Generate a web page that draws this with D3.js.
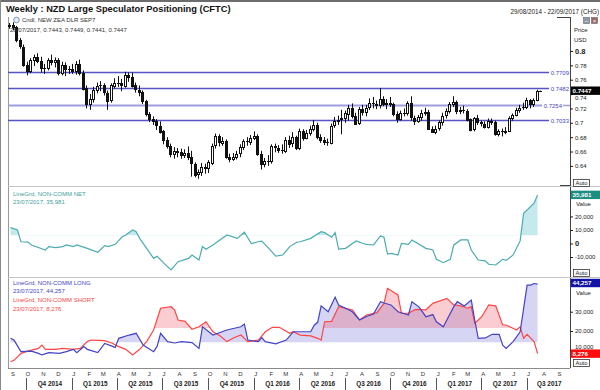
<!DOCTYPE html>
<html><head><meta charset="utf-8">
<script src="https://cdn.jsdelivr.net/npm/d3@7"></script>
<style>
body{margin:0;background:#fff}
svg{display:block;font-family:"Liberation Sans",Arial,sans-serif}
</style>
</head><body>
<svg id="c" width="600" height="390"></svg>
<script>
// ---------------- DATA ----------------
const candleStart = "2014-08-29"; // weekly candles
const opens = [.834,.836,.833,.815,.806,.781,.772,.787,.791,.786,
.776,.776,.787,.784,.787,.769,.780,.774,.775,.772,
.782,.770,.748,.726,.733,.746,.751,.752,.742,.731,
.752,.756,.755,.752,.767,.764,.752,.746,.743,.730,
.712,.705,.702,.696,.688,.676,.668,.657,.661,.659,
.655,.658,.652,.643,.628,.631,.638,.636,.645,.668,
.681,.672,.675,.653,.650,.653,.657,.666,.674,.673,
.679,.682,.657,.643,.647,.646,.667,.665,.662,.661,
.676,.671,.680,.665,.689,.679,.686,.692,.697,.680,
.676,.673,.673,.696,.702,.704,.706,.713,.721,.710,
.699,.719,.715,.721,.727,.726,.724,.733,.726,.728,
.726,.712,.705,.714,.713,.727,.707,.703,.708,.713,
.715,.692,.688,.692,.701,.710,.716,.726,.729,.716,
.718,.717,.705,.690,.706,.701,.699,.695,.703,.701,
.684,.688,.687,.689,.707,.711,.718,.721,.722,.732,
.726,.732,.7443];
const highs = [.839,.840,.835,.818,.809,.785,.790,.795,.797,.792,
.782,.790,.795,.791,.790,.785,.784,.779,.782,.786,
.788,.773,.752,.740,.750,.756,.758,.755,.745,.755,
.762,.765,.761,.771,.770,.770,.756,.752,.745,.732,
.715,.709,.705,.702,.690,.680,.671,.666,.665,.664,
.663,.667,.661,.645,.635,.644,.643,.648,.671,.685,
.684,.680,.677,.657,.658,.661,.670,.677,.680,.683,
.688,.684,.661,.651,.655,.670,.671,.669,.670,.680,
.682,.687,.682,.692,.691,.690,.696,.704,.700,.684,
.680,.678,.699,.708,.710,.718,.717,.725,.727,.714,
.722,.725,.725,.734,.736,.731,.7485,.737,.733,.736,
.728,.716,.717,.720,.730,.737,.710,.711,.718,.721,
.718,.695,.696,.703,.714,.720,.729,.737,.731,.722,
.724,.719,.706,.708,.711,.703,.702,.706,.706,.703,
.691,.692,.694,.709,.713,.721,.725,.728,.735,.733,
.734,.746,.7449];
const lows = [.831,.829,.812,.803,.778,.766,.769,.779,.783,.770,
.768,.773,.780,.777,.766,.766,.765,.768,.768,.767,
.766,.745,.720,.718,.728,.741,.744,.738,.718,.728,
.748,.750,.744,.749,.757,.749,.742,.737,.726,.709,
.701,.697,.690,.685,.670,.664,.652,.650,.652,.650,
.651,.648,.625,.624,.622,.626,.629,.630,.641,.664,
.667,.668,.650,.645,.647,.649,.652,.662,.668,.669,
.676,.654,.635,.638,.640,.643,.659,.658,.657,.658,
.665,.666,.662,.662,.675,.677,.682,.688,.677,.672,
.669,.668,.670,.693,.697,.684,.700,.703,.706,.697,
.697,.710,.709,.718,.720,.719,.720,.723,.719,.722,
.709,.700,.703,.709,.710,.703,.697,.700,.703,.710,
.690,.686,.684,.689,.696,.706,.713,.722,.712,.712,
.713,.702,.688,.688,.697,.695,.692,.692,.697,.682,
.681,.681,.684,.687,.703,.709,.714,.718,.719,.720,
.722,.730,.7441];
const closes = [.836,.833,.815,.806,.781,.772,.787,.791,.786,.776,
.776,.787,.784,.787,.769,.780,.774,.775,.772,.782,
.770,.748,.726,.733,.746,.751,.752,.742,.731,.752,
.756,.755,.752,.767,.764,.752,.746,.743,.730,.712,
.705,.702,.696,.688,.676,.668,.657,.661,.659,.655,
.658,.652,.643,.628,.631,.638,.636,.645,.668,.681,
.672,.675,.653,.650,.653,.657,.666,.674,.673,.679,
.682,.657,.643,.647,.646,.667,.665,.662,.661,.676,
.671,.680,.665,.689,.679,.686,.692,.697,.680,.676,
.673,.673,.696,.702,.704,.706,.713,.721,.710,.699,
.719,.715,.721,.727,.726,.724,.733,.726,.728,.726,
.712,.705,.714,.713,.727,.707,.703,.708,.713,.715,
.692,.688,.692,.701,.710,.716,.726,.729,.716,.718,
.717,.705,.690,.706,.701,.699,.695,.703,.701,.684,
.688,.687,.689,.707,.711,.718,.721,.722,.732,.726,
.732,.7443,.7447];
const levels = [0.7709, 0.7482, 0.7254, 0.7033];
const priceTicks = [0.64,0.66,0.68,0.7,0.72,0.74,0.76,0.78,0.8];
const lastPrice = 0.7447;

const cftcStart = "2014-08-31"; // week 0 of the CFTC series
const netWeeks = [0,2,3,5,6,10,11,13,15,16,18,19,22,25,27,28,30,32,33,35,36,37,39,41,42,44,46,48,51,52,54,55,56,58,62,65,67,69,71,72,74,76,78,80,82,83,86,89,90,92,93,94,96,99,101,102,104,106,107,108,109,111,112,114,115,119,121,122,124,126,127,129,131,132,134,136,137,139,141,142,144,146,147,150,151];
const netValues = [11700,10000,1300,1000,-1100,-4800,-2300,-3000,-2300,-1100,-2300,-1100,-3600,-6500,-1600,-2300,-600,5000,6300,10000,8700,3800,-3600,-11000,-9500,-14700,-19600,-13500,-11000,-8500,-12200,-2300,-4300,-1100,6300,3800,8300,0,1300,1800,-3600,-9300,-8500,-2300,900,1300,3800,8700,8000,4600,8000,-4100,-3600,1900,0,-600,-1100,5600,4600,-7800,-7300,-8500,0,-600,2600,-3600,-4800,-11700,-14200,-11700,-1100,2600,2600,-4800,-12200,-12800,-15400,-15900,-11700,-12500,-8500,1900,22400,29800,35981];
const longWeeks = [0,1,3,6,8,9,11,14,16,18,19,21,22,25,27,30,31,34,36,38,41,42,43,45,47,49,52,54,55,58,62,66,67,68,71,72,73,76,79,81,83,86,87,88,89,91,93,94,97,98,100,102,104,106,107,109,111,114,115,117,119,121,122,124,125,127,128,130,132,133,134,136,138,140,141,142,144,146,148,149,150,151];
const longValues = [16200,15300,9300,9600,8400,7600,8800,8400,9300,10500,8800,11900,10500,8800,13600,11500,16200,17900,18800,12700,9300,12000,18800,14500,13800,14500,14000,11000,22200,17900,20500,22200,23600,15300,14500,16600,14500,13300,15300,19600,19600,19600,23000,24500,33000,30000,37500,33500,30900,29800,25700,27500,28800,35200,34500,33500,30000,28300,35200,32500,27400,28500,24800,22200,25700,32600,35200,33000,36000,25700,16200,16400,18300,18300,12700,11000,14500,19600,43800,43800,44600,44257];
const shortWeeks = [0,1,3,5,8,9,10,13,15,18,20,22,23,27,29,31,33,35,37,39,41,43,46,47,48,50,52,54,56,58,60,62,64,66,68,71,73,75,77,80,81,83,86,88,89,90,92,94,98,100,102,105,107,108,111,112,114,116,119,121,125,127,129,131,132,133,135,137,139,141,142,145,146,147,148,150,151];
const shortValues = [4100,4800,8400,9600,11000,12700,10500,10500,11000,10500,11000,14500,15300,15000,13800,11900,10500,7600,10500,14500,20500,31800,32600,31000,25700,25000,20900,22200,24800,19600,17500,14500,16500,17900,14500,15300,19600,21900,21900,18800,19600,17900,17500,16200,15300,24800,25000,32600,30900,25700,28300,29500,34300,42100,38700,29200,29200,31200,31000,34300,36900,33500,33000,31800,32600,24000,27400,33500,33000,23100,23100,20500,22200,16200,18300,14500,8276];
const netTicks = [-10000,0,10000,20000];
const lsTicks = [10000,20000,30000];
const netFillLevel = 6000, longFillLevel = 14000, shortFillLevel = 21500;
const monthLetters = ["J","F","M","A","M","J","J","A","S","O","N","D"];

// ---------------- CHART ----------------
const parse = d3.utcParse("%Y-%m-%d");
const svg = d3.select("#c");
const L = 8, R = 570;
const x = d3.scaleUtc().domain([parse("2014-08-26"), parse("2017-09-26")]).range([L, R]);
const yP = d3.scaleLinear().domain([0.612, 0.8473]).range([186, 17]);
const yN = d3.scaleLinear().domain([-24800, 41800]).range([277, 187]);
const yL = d3.scaleLinear().domain([829, 47460]).range([368, 278]);
const fmtK = v => d3.format(",")(v).replace("\u2212", "-");

svg.append("rect").attr("width", 600).attr("height", 390).attr("fill", "#fff");

const defs = svg.append("defs");
function clip(id, x0, y0, w, h) {
  defs.append("clipPath").attr("id", id).append("rect").attr("x", x0).attr("y", y0).attr("width", w).attr("height", h);
  return "url(#" + id + ")";
}
const clipP = clip("cp", L, 17, R - L, 169);
const clipNfill = clip("cnf", L, 187, R - L, yN(netFillLevel) - 187);
const clipN = clip("cn", L, 187, R - L, 90);
const clipLfill = clip("clf", L, 278, R - L, yL(longFillLevel) - 278);
const clipSfill = clip("csf", L, 278, R - L, yL(shortFillLevel) - 278);
const clipLS = clip("cls", L, 278, R - L, 90);

// frame lines
svg.append("rect").attr("x", 0).attr("y", 0).attr("width", 600).attr("height", 2).attr("fill", "#6d6d6d");
svg.append("line").attr("x1", 0.5).attr("x2", 0.5).attr("y1", 0).attr("y2", 390).attr("stroke", "#8a8a8a");
svg.append("line").attr("x1", L + 0.5).attr("x2", L + 0.5).attr("y1", 17).attr("y2", 368).attr("stroke", "#9a9a9a");
svg.append("line").attr("x1", R + 0.5).attr("x2", R + 0.5).attr("y1", 17).attr("y2", 368).attr("stroke", "#444");
svg.append("line").attr("x1", 557).attr("x2", R).attr("y1", 17.5).attr("y2", 17.5).attr("stroke", "#444");
[186.5, 277.5].forEach(y => svg.append("line").attr("x1", L).attr("x2", 600).attr("y1", y).attr("y2", y).attr("stroke", "#c4c4c4"));
svg.append("line").attr("x1", 560).attr("x2", R).attr("y1", 185.5).attr("y2", 185.5).attr("stroke", "#444");
svg.append("line").attr("x1", L).attr("x2", R).attr("y1", 368.5).attr("y2", 368.5).attr("stroke", "#8a8a8a");

// title & header
svg.append("text").attr("x", 6).attr("y", 11.5).attr("font-size", 9.3).attr("font-weight", "bold").attr("fill", "#111")
  .text("Weekly : NZD Large Speculator Positioning (CFTC)");
svg.append("text").attr("x", 599).attr("y", 14).attr("text-anchor", "end").attr("font-size", 6.3).attr("fill", "#222")
  .text("29/08/2014 - 22/09/2017 (CHG)");

// ---- Panel 1: candles ----
const lv = svg.append("g");
levels.forEach(v => {
  const y = Math.round(yP(v)) + 0.5;
  const special = v === 0.7254;
  lv.append("line").attr("x1", L).attr("x2", special ? 542 : 549).attr("y1", y).attr("y2", y)
    .attr("stroke", special ? "#9d9de0" : "#5555c4").attr("stroke-width", special ? 2 : 1.3);
  if (special) lv.append("line").attr("x1", 563).attr("x2", R).attr("y1", y).attr("y2", y).attr("stroke", "#9d9de0").attr("stroke-width", 1.5);
  lv.append("text").attr("x", special ? 562 : 569).attr("y", y + 2.2).attr("text-anchor", "end")
    .attr("font-size", 6).attr("fill", "#4646c8").text(v.toFixed(4));
});

const c0 = parse(candleStart);
const candles = closes.map((c, i) => ({ d: d3.utcDay.offset(c0, 7 * i), o: opens[i], h: highs[i], l: lows[i], c }));
const cg = svg.append("g").attr("clip-path", clipP);
candles.forEach(k => {
  const cx = Math.round(x(k.d));
  cg.append("line").attr("x1", cx + 0.5).attr("x2", cx + 0.5).attr("y1", yP(k.h)).attr("y2", yP(k.l)).attr("stroke", "#111");
  const top = yP(Math.max(k.o, k.c)), bot = yP(Math.min(k.o, k.c));
  const up = k.c >= k.o;
  if (bot - top < 1) {
    cg.append("line").attr("x1", cx - 1).attr("x2", cx + 2).attr("y1", Math.round(top) + 0.5).attr("y2", Math.round(top) + 0.5).attr("stroke", "#111");
  } else {
    cg.append("rect").attr("x", cx - 0.5).attr("width", 2).attr("y", Math.round(top) + 0.5).attr("height", Math.max(1, Math.round(bot - top)))
      .attr("fill", up ? "#fff" : "#111").attr("stroke", "#111").attr("stroke-width", 1);
  }
});

// legend panel 1
svg.append("circle").attr("cx", 16.5).attr("cy", 20).attr("r", 2.8).attr("fill", "#e6eef8").attr("stroke", "#5d7fae").attr("stroke-width", 0.8);
svg.append("text").attr("x", 22).attr("y", 22.3).attr("font-size", 6).attr("fill", "#333").text("Cndl, NEW ZEA DLR SEP7");
svg.append("text").attr("x", 10).attr("y", 31.8).attr("font-size", 6).attr("fill", "#333").text("28/07/2017, 0.7443, 0.7449, 0.7441, 0.7447");

// ---- Panel 2: NET ----
const cf0 = parse(cftcStart);
const toPts = (w, v) => w.map((k, i) => ({ d: d3.utcDay.offset(cf0, 7 * k), v: v[i] }));
const net = toPts(netWeeks, netValues);
const longS = toPts(longWeeks, longValues);
const shortS = toPts(shortWeeks, shortValues);

svg.append("path").datum(net).attr("clip-path", clipNfill).attr("fill", "#c6e9ee")
  .attr("d", d3.area().x(d => x(d.d)).y0(yN(netFillLevel)).y1(d => yN(d.v)));
svg.append("path").datum(net).attr("clip-path", clipN).attr("fill", "none").attr("stroke", "#4aacae").attr("stroke-width", 1.2)
  .attr("d", d3.line().x(d => x(d.d)).y(d => yN(d.v)));
svg.append("text").attr("x", 13).attr("y", 195.5).attr("font-size", 6).attr("fill", "#3f9ea0").text("LineGrd, NON-COMM NET");
svg.append("text").attr("x", 13).attr("y", 204.3).attr("font-size", 6).attr("fill", "#3f9ea0").text("23/07/2017, 35,981");

// ---- Panel 3: LONG / SHORT ----
svg.append("path").datum(longS).attr("clip-path", clipLfill).attr("fill", "rgba(70,70,205,0.22)")
  .attr("d", d3.area().x(d => x(d.d)).y0(yL(longFillLevel)).y1(d => yL(d.v)));
svg.append("path").datum(shortS).attr("clip-path", clipSfill).attr("fill", "rgba(235,70,90,0.27)")
  .attr("d", d3.area().x(d => x(d.d)).y0(yL(shortFillLevel)).y1(d => yL(d.v)));
svg.append("path").datum(shortS).attr("clip-path", clipLS).attr("fill", "none").attr("stroke", "#ff4545").attr("stroke-width", 1.2)
  .attr("d", d3.line().x(d => x(d.d)).y(d => yL(d.v)));
svg.append("path").datum(longS).attr("clip-path", clipLS).attr("fill", "none").attr("stroke", "#4343c6").attr("stroke-width", 1.2)
  .attr("d", d3.line().x(d => x(d.d)).y(d => yL(d.v)));
[["LineGrd, NON-COMM LONG", 285, "#4646c8"], ["23/07/2017, 44,257", 293.3, "#4646c8"],
 ["LineGrd, NON-COMM SHORT", 302, "#ff4646"], ["23/07/2017, 8,276", 310.7, "#ff4646"]]
  .forEach(([t, y, c]) => svg.append("text").attr("x", 13).attr("y", y).attr("font-size", 6).attr("fill", c).text(t));

// ---- Right axes ----
function yAxis(scale, ticks, fmt, boldVal, nudge) {
  const g = svg.append("g").attr("transform", "translate(" + R + ",0)")
    .call(d3.axisRight(scale).tickValues(ticks).tickSize(3).tickPadding(2).tickFormat(fmt));
  g.select(".domain").remove();
  g.selectAll("line").attr("stroke", "#222");
  g.selectAll("text").attr("font-size", 6).attr("fill", "#222").attr("font-family", "Liberation Sans, Arial, sans-serif");
  if (boldVal !== undefined)
    g.selectAll(".tick").filter(d => d === boldVal).select("text").attr("font-weight", "bold").attr("font-size", 7.5);
  if (nudge) g.selectAll(".tick").filter(d => nudge[d] !== undefined).select("text").attr("y", d => nudge[d]);
  return g;
}
yAxis(yP, priceTicks, v => String(+v.toFixed(2)), 0.8, { 0.74: 3.6 });
yAxis(yN, netTicks, fmtK, 0);
yAxis(yL, lsTicks, fmtK, undefined, { 10000: -3.6 });

svg.append("text").attr("x", 574).attr("y", 32).attr("font-size", 6).attr("fill", "#222").text("Price");
svg.append("text").attr("x", 574).attr("y", 41.5).attr("font-size", 6).attr("fill", "#222").text("USD");
svg.append("text").attr("x", 576).attr("y", 206).attr("font-size", 6).attr("fill", "#222").text("Value");
svg.append("text").attr("x", 576).attr("y", 294.5).attr("font-size", 6).attr("fill", "#222").text("Value");

// window icons
function icons(y) {
  [[583, "#8e9aa6", "\u2212"], [591, "#a06868", "\u00d7"]].forEach(([xx, c, t]) => {
    svg.append("rect").attr("x", xx + 0.5).attr("y", y + 0.5).attr("width", 6).attr("height", 6).attr("fill", c).attr("stroke", "#666").attr("stroke-width", 0.6);
    svg.append("text").attr("x", xx + 3.5).attr("y", y + 5.6).attr("text-anchor", "middle").attr("font-size", 6).attr("fill", "#fff").text(t);
  });
}
icons(17);

// value boxes
function vbox(yc, t, fill, tc) {
  svg.append("rect").attr("x", 571).attr("y", yc - 4.2).attr("width", 29).attr("height", 8.4).attr("fill", fill);
  svg.append("text").attr("x", 572.5).attr("y", yc + 2.2).attr("font-size", 6.2).attr("font-weight", "bold").attr("fill", tc).text(t);
}
vbox(yP(lastPrice), "0.7447", "#050505", "#fff");
vbox(yN(35981), "35,981", "#1b8d82", "#fff");
vbox(283, "44,257", "#1212a6", "#fff");
vbox(yL(8276), "8,276", "#ff0c0c", "#fff");

// Auto buttons
[179.5, 269.5, 359.5].forEach(y => {
  svg.append("rect").attr("x", 573.5).attr("y", y).attr("width", 16).attr("height", 7).attr("fill", "#fff").attr("stroke", "#333").attr("stroke-width", 0.8);
  svg.append("text").attr("x", 581.5).attr("y", y + 5.6).attr("text-anchor", "middle").attr("font-size", 5.8).attr("fill", "#222").text("Auto");
});

// ---- X axis: months & quarters ----
const [d0, d1] = x.domain();
d3.utcMonth.range(d3.utcMonth.ceil(d0), d1).forEach(m => {
  const px = x(m) + 2;
  if (px < 10 || px > 568) return;
  svg.append("text").attr("x", px).attr("y", 376).attr("text-anchor", "middle").attr("font-size", 6).attr("fill", "#333")
    .text(monthLetters[m.getUTCMonth()]);
});
const qStarts = d3.utcMonth.every(3).range(parse("2014-07-01"), parse("2017-10-02"));
qStarts.forEach(s => {
  const e = d3.utcMonth.offset(s, 3);
  const xs = x(s), xe = x(e);
  if (xs >= L && xs <= R) svg.append("line").attr("x1", Math.round(xs) + 0.5).attr("x2", Math.round(xs) + 0.5)
    .attr("y1", 378).attr("y2", 390).attr("stroke", "#555");
  const a = Math.max(xs, L), b = Math.min(xe, R);
  if (b - a > 30) {
    const q = Math.floor(s.getUTCMonth() / 3) + 1;
    svg.append("text").attr("x", (a + b) / 2 + 1).attr("y", 386).attr("text-anchor", "middle").attr("font-size", 6.4)
      .attr("font-weight", "bold").attr("fill", "#222").text("Q" + q + " " + s.getUTCFullYear());
  }
});
</script>
</body></html>
